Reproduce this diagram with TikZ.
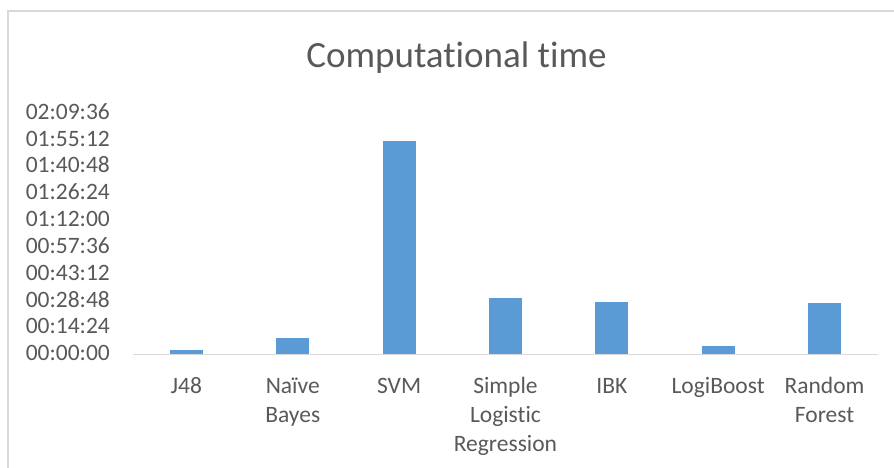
\documentclass[tikz,border=0pt]{standalone}
\usepackage{fontspec}
\setmainfont{Carlito}[Ligatures={NoCommon,NoRequired,NoContextual}]
\definecolor{txt}{HTML}{595959}
\definecolor{barc}{HTML}{5B9BD5}
\definecolor{linec}{HTML}{D9D9D9}
\tikzset{
  ticklab/.style={anchor=base east, inner sep=0pt, text=txt, font=\fontsize{23.5}{28}\selectfont},
  catlab/.style={anchor=north, inner sep=0pt, align=center, text=txt, font=\fontsize{23.5}{29}\selectfont},
  barbox/.style={fill=barc, draw=none},
  frame/.style={draw=linec, line width=1.2pt},
  axisline/.style={draw=linec, line width=1.5pt}
}
\begin{document}
\begin{tikzpicture}[x=1pt,y=-1pt]
\useasboundingbox (0,0) rectangle (894,467);
% chart frame
\draw[frame] (8,470) -- (8,11) -- (900,11);
% title
\node[anchor=base, inner sep=0pt, text=txt, font=\fontsize{37}{44}\selectfont] (title) at (456.5,67) {Computational time};
% tick labels
\foreach \lab [count=\i from 0] in {00:00:00,00:14:24,00:28:48,00:43:12,00:57:36,01:12:00,01:26:24,01:40:48,01:55:12,02:09:36}{
  \node[ticklab] (t\i) at (110,{360.8-\i*26.85}) {\lab};
}
% bars
\foreach \top [count=\i from 0] in {350.3,337.7,141,298.3,302.3,346.3,302.7}{
  \path[barbox] ({186.4+\i*106.35-16.5},354.3) rectangle ({186.4+\i*106.35+16.5},\top);
}
% axis
\coordinate (ax0) at (133,354.3);
\coordinate (ax1) at (878,354.3);
\draw[axisline] (ax0) -- (ax1);
% category labels
\foreach \lab [count=\i from 0] in {J48,{Naïve\\Bayes},SVM,{Simple\\Logistic\\Regression},IBK,LogiBoost,{Random\\Forest}}{
  \node[catlab] (c\i) at ({186.4+\i*106.35},375.5) {\rule{0pt}{18pt}\lab};
}
\end{tikzpicture}
\end{document}
